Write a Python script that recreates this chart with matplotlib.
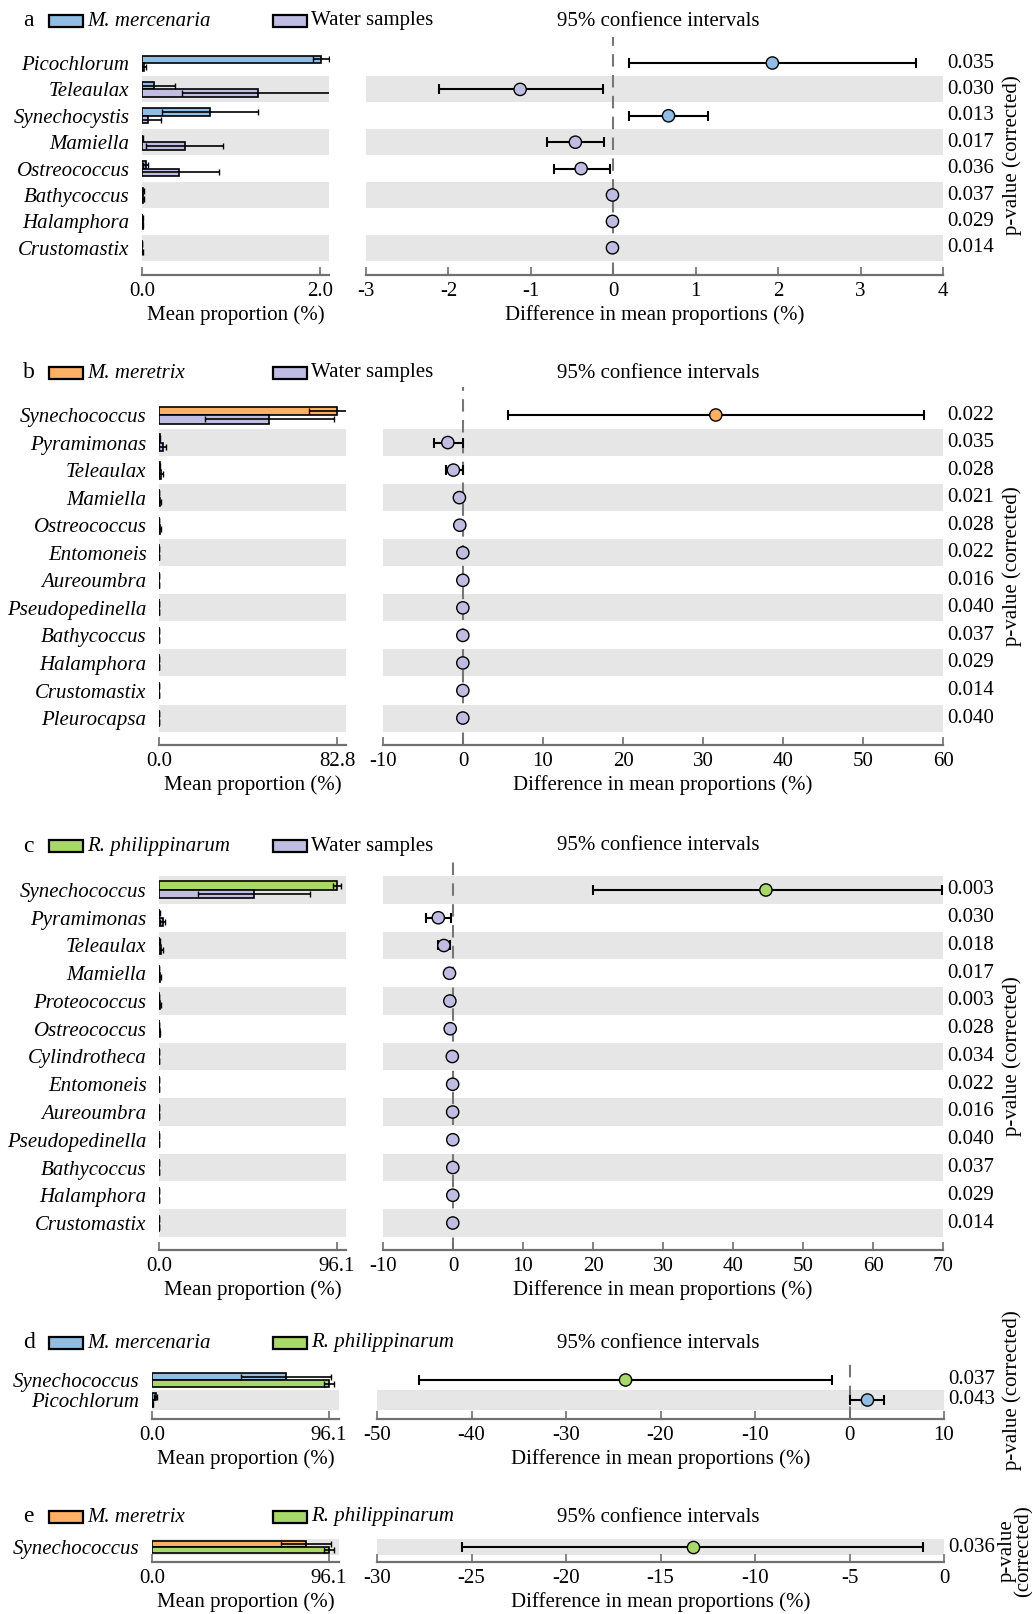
import matplotlib
matplotlib.use('Agg')
import matplotlib.pyplot as plt
import matplotlib.transforms as mtransforms
from matplotlib.patches import Rectangle
import numpy as np

plt.rcParams.update({
    "font.family": "Liberation Serif",
    "font.size": 15,
    "axes.unicode_minus": False,
})

BLUE = '#8fbde3'
PURPLE = '#c0bde3'
ORANGE = '#fdb064'
GREEN = '#a9d86a'
BAND = '#e6e6e6'
SPINE = '#707070'

W, H = 1032, 1614

# ---------------------------------------------------------------- a
a_taxa = ['Picochlorum', 'Teleaulax', 'Synechocystis', 'Mamiella', 'Ostreococcus',
          'Bathycoccus', 'Halamphora', 'Crustomastix']
a_mean1 = [2.01, 0.13, 0.76, 0.004, 0.04, 0.01, 0.005, 0.003]
a_sd1 = [0.09, 0.24, 0.54, 0.003, 0.03, 0.01, 0.004, 0.002]
a_mean2 = [0.02, 1.30, 0.07, 0.48, 0.42, 0.01, 0.006, 0.004]
a_sd2 = [0.02, 0.85, 0.14, 0.43, 0.44, 0.01, 0.004, 0.003]
a_diff = [1.93, -1.13, 0.67, -0.46, -0.39, -0.01, -0.01, -0.01]
a_lo = [0.19, -2.12, 0.19, -0.81, -0.72, -0.02, -0.02, -0.02]
a_hi = [3.67, -0.13, 1.15, -0.11, -0.04, 0.0, 0.0, 0.0]
a_p = ['0.035', '0.030', '0.013', '0.017', '0.036', '0.037', '0.029', '0.014']

# ---------------------------------------------------------------- b
b_taxa = ['Synechococcus', 'Pyramimonas', 'Teleaulax', 'Mamiella', 'Ostreococcus',
          'Entomoneis', 'Aureoumbra', 'Pseudopedinella', 'Bathycoccus', 'Halamphora',
          'Crustomastix', 'Pleurocapsa']
b_mean1 = [82.8, 0.3, 0.3, 0.1, 0.1, 0.05, 0.05, 0.05, 0.05, 0.05, 0.05, 0.05]
b_sd1 = [13.2, 0.2, 0.2, 0.1, 0.1, 0.05, 0.05, 0.05, 0.05, 0.05, 0.05, 0.05]
b_mean2 = [51.4, 1.8, 1.0, 0.5, 0.4, 0.1, 0.1, 0.1, 0.1, 0.1, 0.1, 0.1]
b_sd2 = [30.2, 1.6, 0.8, 0.4, 0.3, 0.1, 0.1, 0.1, 0.1, 0.1, 0.1, 0.1]
b_diff = [31.6, -1.9, -1.2, -0.45, -0.4, -0.02, -0.02, -0.02, -0.02, -0.02, -0.02, -0.02]
b_lo = [5.6, -3.6, -2.1, -0.6, -0.55, -0.1, -0.1, -0.1, -0.1, -0.1, -0.1, -0.1]
b_hi = [57.6, -0.05, -0.05, -0.3, -0.25, 0.05, 0.05, 0.05, 0.05, 0.05, 0.05, 0.05]
b_p = ['0.022', '0.035', '0.028', '0.021', '0.028', '0.022', '0.016', '0.040',
       '0.037', '0.029', '0.014', '0.040']

# ---------------------------------------------------------------- c
c_taxa = ['Synechococcus', 'Pyramimonas', 'Teleaulax', 'Mamiella', 'Proteococcus',
          'Ostreococcus', 'Cylindrotheca', 'Entomoneis', 'Aureoumbra', 'Pseudopedinella',
          'Bathycoccus', 'Halamphora', 'Crustomastix']
c_mean1 = [96.1, 0.2, 0.2, 0.05, 0.05, 0.05, 0.05, 0.05, 0.05, 0.05, 0.05, 0.05, 0.05]
c_sd1 = [2.0, 0.1, 0.1, 0.05, 0.05, 0.05, 0.05, 0.05, 0.05, 0.05, 0.05, 0.05, 0.05]
c_mean2 = [51.3, 2.0, 1.3, 0.5, 0.45, 0.4, 0.1, 0.1, 0.1, 0.1, 0.1, 0.1, 0.1]
c_sd2 = [30.3, 1.5, 1.0, 0.4, 0.4, 0.3, 0.1, 0.1, 0.1, 0.1, 0.1, 0.1, 0.1]
c_diff = [44.7, -2.1, -1.3, -0.5, -0.45, -0.4, -0.1, -0.05, -0.05, -0.03, -0.03, -0.03, -0.03]
c_lo = [20.0, -3.8, -2.2, -0.7, -0.65, -0.6, -0.2, -0.1, -0.1, -0.1, -0.1, -0.1, -0.1]
c_hi = [69.9, -0.3, -0.4, -0.3, -0.25, -0.2, 0.0, 0.0, 0.0, 0.0, 0.0, 0.0, 0.0]
c_p = ['0.003', '0.030', '0.018', '0.017', '0.003', '0.028', '0.034', '0.022',
       '0.016', '0.040', '0.037', '0.029', '0.014']

# ---------------------------------------------------------------- d
d_taxa = ['Synechococcus', 'Picochlorum']
d_mean1 = [72.7, 2.0]
d_sd1 = [24.2, 0.8]
d_mean2 = [96.1, 0.3]
d_sd2 = [2.5, 0.2]
d_diff = [-23.7, 1.9]
d_lo = [-45.6, 0.0]
d_hi = [-1.8, 3.6]
d_p = ['0.037', '0.043']

# ---------------------------------------------------------------- e
e_taxa = ['Synechococcus']
e_mean1 = [83.5]
e_sd1 = [13.4]
e_mean2 = [96.1]
e_sd2 = [2.5]
e_diff = [-13.3]
e_lo = [-25.5]
e_hi = [-1.1]
e_p = ['0.036']

fig = plt.figure(figsize=(W / 100, H / 100), dpi=100)


def add_axes_px(x0, x1, y_top, y_bot):
    return fig.add_axes([x0 / W, 1 - y_bot / H, (x1 - x0) / W, (y_bot - y_top) / H])


def ftext(x, y, s, **kw):
    return fig.text(x / W, 1 - y / H, s, **kw)


def legend_row(letter, y, g1, c1, g2, c2):
    ftext(23, y, letter, ha='left', va='center', fontsize=17)
    for bx, tx, name, col in ((49, 87, g1, c1), (273, 311, g2, c2)):
        fig.add_artist(Rectangle((bx / W, 1 - (y + 6) / H), 34 / W, 12 / H,
                                 transform=fig.transFigure, facecolor=col,
                                 edgecolor='black', lw=1.6))
        style = 'normal' if name == 'Water samples' else 'italic'
        ftext(tx, y, name, ha='left', va='center', style=style)
    ftext(658, y, '95% confience intervals', ha='center', va='center')


def panel(letter, g1, g2, c1, c2, taxa, m1, s1, m2, s2, diff, lo, hi, pvals,
          row0, pitch, spine, lx, rx, leg_y, bar_px, bar_max, bar_tick,
          dlim, dstep, pv_split=False):
    n = len(taxa)
    y = np.arange(n)
    bh = bar_px / pitch
    legend_row(letter, leg_y, g1, c1, g2, c2)

    axl = add_axes_px(lx[0], lx[1], row0 - pitch, spine)
    axr = add_axes_px(rx[0], rx[1], row0 - pitch, spine)
    for ax in (axl, axr):
        ax.set_ylim((spine - row0) / pitch, -1.0)
        for s in ('top', 'left', 'right'):
            ax.spines[s].set_visible(False)
        ax.spines['bottom'].set_color(SPINE)
        ax.spines['bottom'].set_linewidth(1.6)
        ax.tick_params(axis='x', direction='in', length=6, width=1.2,
                       color=SPINE, pad=5)
        ax.set_facecolor('none')
        # alternate shading, counted up from the last row
        for i in range(n):
            if (n - 1 - i) % 2 == 0:
                ax.axhspan(i - 0.49, i + 0.49, color=BAND, lw=0, zorder=0)

    # mean proportions
    axl.set_xlim(0, bar_max)
    axl.set_yticks(y, taxa, style='italic')
    axl.tick_params(axis='y', length=0, pad=9)
    axl.barh(y - bh / 2, m1, height=bh, color=c1, edgecolor='black', lw=1.2, zorder=2)
    axl.barh(y + bh / 2, m2, height=bh, color=c2, edgecolor='black', lw=1.2, zorder=2)
    axl.errorbar(m1, y - bh / 2, xerr=s1, fmt='none', ecolor='black',
                 elinewidth=1.2, capsize=2, zorder=3)
    axl.errorbar(m2, y + bh / 2, xerr=s2, fmt='none', ecolor='black',
                 elinewidth=1.2, capsize=2, zorder=3)
    axl.set_xticks([0, bar_tick], ['0.0', f'{bar_tick:.1f}'])
    axl.set_xlabel('Mean proportion (%)', labelpad=3)

    # difference with 95% CI
    diff = np.array(diff)
    axr.set_xlim(*dlim)
    axr.set_yticks([])
    ticks = np.arange(dlim[0], dlim[1] + dstep / 2, dstep)
    axr.set_xticks(ticks, [str(int(t)) for t in ticks])
    if dlim[0] < 0 < dlim[1]:
        axr.axvline(0, color='#777777', lw=1.5, dashes=(6, 4), zorder=1)
    err = [diff - np.array(lo), np.array(hi) - diff]
    axr.errorbar(diff, y, xerr=err, fmt='none', ecolor='black', elinewidth=1.5,
                 capsize=3.5, capthick=1.5, zorder=2)
    cols = [c1 if d > 0 else c2 for d in diff]
    axr.scatter(diff, y, s=78, c=cols, edgecolors='black', linewidths=1, zorder=4)
    axr.set_xlabel('Difference in mean proportions (%)', labelpad=3)

    tr = mtransforms.blended_transform_factory(axr.transAxes, axr.transData)
    for i, p in enumerate(pvals):
        axr.text(1 + 4 / (rx[1] - rx[0]), i, p, transform=tr, ha='left', va='center')

    yc = row0 + pitch * (n - 1) / 2
    if pv_split:
        ftext(1016, yc + 4, 'p-value\n(corrected)', rotation=90, ha='center',
              va='center', linespacing=0.85)
    else:
        ftext(1012, yc, 'p-value (corrected)', rotation=90, ha='center', va='center')


panel('a', 'M. mercenaria', 'Water samples', BLUE, PURPLE, a_taxa,
      a_mean1, a_sd1, a_mean2, a_sd2, a_diff, a_lo, a_hi, a_p,
      row0=63, pitch=26.4, spine=275, lx=(142, 329), rx=(366, 943), leg_y=21,
      bar_px=7.5, bar_max=2.1, bar_tick=2.0, dlim=(-3, 4), dstep=1)

panel('b', 'M. meretrix', 'Water samples', ORANGE, PURPLE, b_taxa,
      b_mean1, b_sd1, b_mean2, b_sd2, b_diff, b_lo, b_hi, b_p,
      row0=415, pitch=27.55, spine=745, lx=(159, 346), rx=(383, 943), leg_y=373,
      bar_px=8.5, bar_max=87.0, bar_tick=82.8, dlim=(-10, 60), dstep=10)

panel('c', 'R. philippinarum', 'Water samples', GREEN, PURPLE, c_taxa,
      c_mean1, c_sd1, c_mean2, c_sd2, c_diff, c_lo, c_hi, c_p,
      row0=890, pitch=27.75, spine=1250, lx=(159, 346), rx=(383, 943), leg_y=846,
      bar_px=8.5, bar_max=101.0, bar_tick=96.1, dlim=(-10, 70), dstep=10)

panel('d', 'M. mercenaria', 'R. philippinarum', BLUE, GREEN, d_taxa,
      d_mean1, d_sd1, d_mean2, d_sd2, d_diff, d_lo, d_hi, d_p,
      row0=1380, pitch=20, spine=1419, lx=(152, 339), rx=(377, 944), leg_y=1343,
      bar_px=7, bar_max=101.5, bar_tick=96.1, dlim=(-50, 10), dstep=10)

panel('e', 'M. meretrix', 'R. philippinarum', ORANGE, GREEN, e_taxa,
      e_mean1, e_sd1, e_mean2, e_sd2, e_diff, e_lo, e_hi, e_p,
      row0=1547, pitch=16, spine=1562, lx=(152, 339), rx=(377, 944), leg_y=1517,
      bar_px=6, bar_max=101.5, bar_tick=96.1, dlim=(-30, 0), dstep=5, pv_split=True)

fig.savefig('out.png', dpi=100)
